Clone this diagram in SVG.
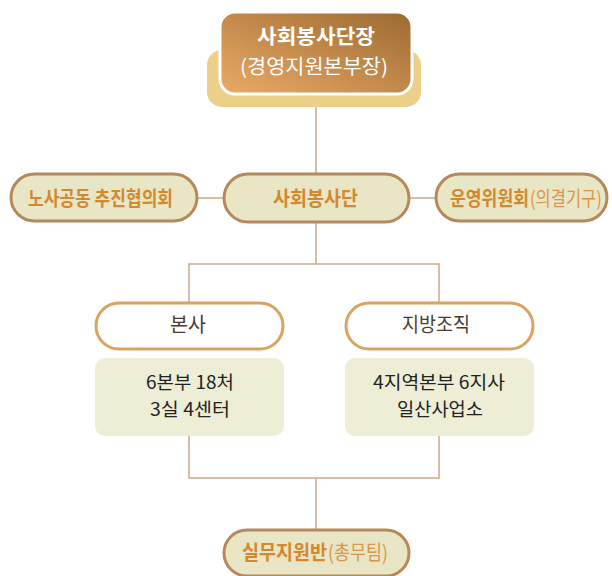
<svg xmlns="http://www.w3.org/2000/svg" width="612" height="576" viewBox="0 0 612 576">
<defs>
<linearGradient id="brown" x1="0" y1="1" x2="1" y2="0">
<stop offset="0" stop-color="#EBAA66"/>
<stop offset="1" stop-color="#9C6A31"/>
</linearGradient>
<style>
.k{font-family:"Noto Sans CJK KR","Noto Sans",sans-serif;text-anchor:middle}
.s{text-anchor:start}
.conn{stroke:#CDA888;stroke-width:1.5;fill:none}
.pill{fill:#E8E6C4;stroke:#B5895A;stroke-width:3}
.wpill{fill:#FFFFFF;stroke:#D9A461;stroke-width:3}
.box{fill:#EEEDD5}
.or{fill:#D4882E;font-weight:bold;font-size:20px}
.orl{fill:#D9964A;font-weight:normal;font-size:20px}
.dk{fill:#4A3B2E;font-size:20px}
.bt{fill:#222222;font-size:18px}
</style>
</defs>
<rect width="612" height="576" fill="#FFFFFF"/>
<g id="connectors">
<line class="conn" x1="316" y1="107" x2="316" y2="174"/>
<line class="conn" x1="197" y1="198" x2="224" y2="198"/>
<line class="conn" x1="409" y1="198" x2="436" y2="198"/>
<path class="conn" d="M316 222 V264 M189 302 V264 H439 V302"/>
<path class="conn" d="M189 436 V478 H439 V436 M316 478 V530"/>
</g>
<g id="head">
<rect x="207" y="50" width="214" height="57" rx="15" fill="#ECD08A"/>
<rect x="220" y="12" width="192" height="82" rx="15" fill="url(#brown)" stroke="#FFFFFF" stroke-width="3"/>
<text class="k" x="316" y="44" font-size="20" font-weight="bold" fill="#FFFFFF" textLength="118" lengthAdjust="spacingAndGlyphs">사회봉사단장</text>
<text class="k" x="314" y="74" font-size="20" fill="#FFFFFF" textLength="148" lengthAdjust="spacingAndGlyphs">(경영지원본부장)</text>
</g>
<g id="labor">
<rect class="pill" x="11" y="174" width="186" height="47" rx="23.5"/>
<text class="k or" x="100.5" y="205.5" textLength="145" lengthAdjust="spacingAndGlyphs">노사공동 추진협의회</text>
</g>
<g id="corps">
<rect class="pill" x="224" y="174" width="185" height="48" rx="24"/>
<text class="k or" x="315.5" y="205.5" textLength="85" lengthAdjust="spacingAndGlyphs">사회봉사단</text>
</g>
<g id="committee">
<rect class="pill" x="436" y="174" width="171" height="47" rx="23.5"/>
<text class="k s or" transform="translate(450 205.5) scale(0.79 1)" x="0" y="0" textLength="100" lengthAdjust="spacingAndGlyphs">운영위원회</text>
<text class="k s orl" transform="translate(530 205.5) scale(0.78 1)" x="0" y="0" textLength="92" lengthAdjust="spacingAndGlyphs">(의결기구)</text>
</g>
<g id="hq">
<rect class="wpill" x="96" y="303" width="187" height="46" rx="23"/>
<text class="k dk" x="188" y="332" textLength="36" lengthAdjust="spacingAndGlyphs">본사</text>
</g>
<g id="hq-detail">
<rect class="box" x="95" y="358" width="189" height="78" rx="10"/>
<text class="k bt" x="190" y="389" textLength="88" lengthAdjust="spacingAndGlyphs">6본부 18처</text>
<text class="k bt" x="190" y="416" textLength="80" lengthAdjust="spacingAndGlyphs">3실 4센터</text>
</g>
<g id="regional">
<rect class="wpill" x="346" y="303" width="187" height="46" rx="23"/>
<text class="k dk" x="436" y="332" textLength="68" lengthAdjust="spacingAndGlyphs">지방조직</text>
</g>
<g id="regional-detail">
<rect class="box" x="345" y="358" width="189" height="78" rx="10"/>
<text class="k bt" x="439" y="389" textLength="132" lengthAdjust="spacingAndGlyphs">4지역본부 6지사</text>
<text class="k bt" x="440" y="416" textLength="86" lengthAdjust="spacingAndGlyphs">일산사업소</text>
</g>
<g id="support">
<rect class="pill" x="224" y="530" width="185" height="46" rx="23"/>
<text class="k s or" x="242" y="559.5" textLength="85" lengthAdjust="spacingAndGlyphs">실무지원반</text>
<text class="k s orl" x="328" y="559.5" textLength="60" lengthAdjust="spacingAndGlyphs">(총무팀)</text>
</g>
</svg>
